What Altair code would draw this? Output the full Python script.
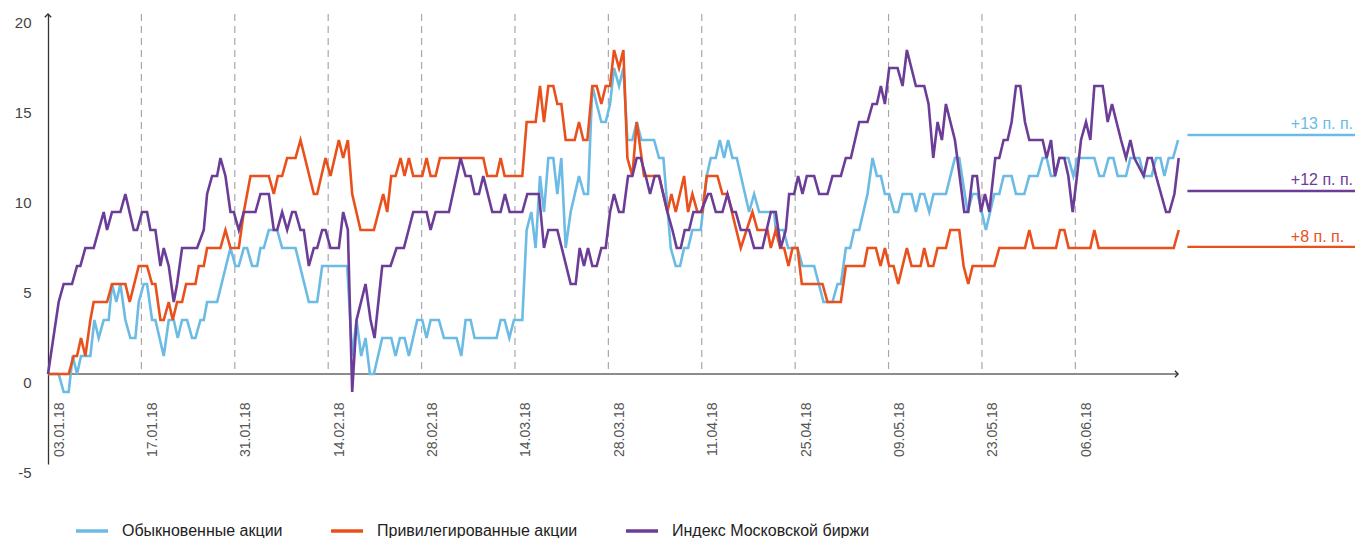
import altair as alt
import pandas as pd

# ---- data (x = days since 03.01.18, y = change, п. п.) ----
series_names = ["Обыкновенные акции", "Привилегированные акции", "Индекс Московской биржи"]
series_colors = ["#6cbbe4", "#e9501c", "#6b3d97"]

blue_x = [0, 1.6, 2.35, 3.1, 3.7, 4.35, 4.95, 6.35, 6.95, 7.6, 8.35, 9.1, 9.6, 10.25, 10.85, 11.6, 12.35, 13.1,
          13.6, 14.35, 14.85, 15.6, 16.1, 17.35, 18.1, 18.85, 19.45, 20.1, 20.85, 21.6, 22.1, 22.85, 23.35, 23.85,
          25.35, 27.35, 28.1, 28.6, 29.35, 29.85, 30.6, 31.35, 31.85, 32.35, 33.1, 34.35, 35.1, 37.1, 39.1, 40.35,
          41.1, 44.85, 45.6, 46.25, 46.95, 47.6, 48.25, 48.85, 50.1, 51.45, 52.1, 52.75, 53.45, 54.1, 55.35, 56.1,
          56.75, 57.35, 58.6, 59.35, 61.25, 61.95, 62.6, 63.35, 63.95, 67.25, 67.85, 68.45, 69.15, 69.85, 71.1,
          71.75, 72.45, 73.1, 73.75, 74.35, 75, 75.75, 76.35, 76.95, 77.6, 78.35, 79.6, 80.35, 80.95, 81.6, 82.25,
          82.95, 83.6, 84.25, 84.85, 85.6, 86.25, 86.85, 87.6, 88.25, 88.95, 90.85, 91.6, 92.25, 93.35, 94.1, 94.75,
          95.35, 95.95, 96.6, 97.85, 98.75, 99.35, 100.1, 100.7, 101.35, 101.95, 102.6, 103.25, 105.1, 105.85,
          106.6, 108.85, 109.1, 110.25, 110.95, 112.35, 113.1, 114.85, 116.25, 117.6, 118.35, 118.85, 119.6,
          120.25, 120.85, 121.6, 122.85, 123.6, 124.25, 124.85, 125.45, 126.1, 126.85, 127.45, 128.1, 129.45,
          130.1, 130.75, 131.35, 132.1, 132.75, 134.6, 135.95, 136.6, 137.85, 138.6, 139.35, 140.6, 141.85, 142.6,
          143.25, 144.45, 145.1, 146.35, 147.1, 148.35, 149.1, 149.7, 150.35, 150.95, 151.6, 152.95, 153.7,
          154.35, 156.85, 157.6, 158.25, 159, 159.7, 160.35, 161.6, 162.25, 163.6, 164.25, 165.45, 166.1, 166.75,
          167.35, 168, 168.65, 169.4]
blue_y = [0, 0, -1, -1, 1, 0, 1, 1, 3, 2, 3, 3, 5, 4, 5, 3, 2, 2,
          4, 5, 5, 3, 3, 1, 3, 3, 2, 3, 3, 2, 2, 3, 3, 4,
          4, 7, 6, 6, 7, 7, 6, 6, 7, 7, 8, 8, 7, 7, 4, 4,
          6, 6, 1, 3, 1, 2, 0, 0, 2, 2, 1, 2, 2, 1, 3, 3,
          2, 3, 3, 2, 2, 1, 3, 3, 2, 2, 3, 3, 2, 3, 3,
          8, 9, 7, 11, 9, 12, 12, 10, 12, 7, 9, 11, 10, 10, 16, 15,
          14, 14, 15, 17, 16, 17, 13, 13, 14, 13, 13, 12, 12, 7, 6, 6,
          7, 7, 8, 8, 11, 12, 12, 13, 12, 13, 12, 12, 9, 10,
          9, 9, 8, 8, 7, 7, 6, 6, 4, 4, 5, 5, 7,
          7, 8, 8, 10, 12, 11, 11, 10, 10, 9, 9, 10, 10,
          9, 10, 10, 9, 10, 10, 12, 12, 9, 10, 10, 8, 10, 10,
          11, 11, 10, 10, 11, 11, 12, 12, 11, 11, 12, 12, 11,
          12, 12, 11, 11, 12, 12, 11, 11, 12, 12, 11, 11, 12, 12,
          11, 12, 12, 13]

orange_x = [0, 3.1, 3.85, 4.35, 4.95, 5.6, 6.35, 6.85, 8.85, 9.6, 11.6, 12.25, 13.6, 14.85, 15.6, 16.1, 16.85,
            17.35, 18.1, 18.7, 19.35, 20.1, 20.7, 22.1, 22.6, 23.35, 23.85, 25.85, 26.6, 27.35, 28.6, 29.35,
            30.35, 33.1, 33.85, 34.45, 35.1, 35.85, 37.1, 37.85, 39.85, 40.35, 41.6, 42.35, 43.6, 44.25, 44.95,
            45.6, 46.85, 48.85, 50.25, 50.85, 51.45, 52.1, 52.85, 53.45, 54.1, 54.75, 56.1, 56.75, 57.35, 58.1,
            58.75, 65.25, 65.85, 67.25, 67.85, 68.45, 71.1, 71.75, 73.1, 73.75, 74.35, 75, 75.75, 76.35, 76.95,
            77.6, 78.95, 79.6, 80.25, 80.85, 81.6, 82.25, 82.95, 83.6, 84.25, 84.85, 85.6, 86.25, 86.85, 87.6,
            88.25, 89.35, 91.6, 92.85, 93.45, 94.1, 95.35, 95.95, 96.6, 97.35, 98.1, 98.75, 100.35, 101.1, 101.85,
            103.85, 105.6, 106.35, 107.85, 108.35, 109.1, 109.75, 110.35, 111, 111.6, 112.35, 113, 116.1, 116.85,
            118.85, 119.6, 122.35, 122.85, 124.1, 124.8, 125.45, 126.1, 126.75, 127.45, 128.75, 129.45, 130.8,
            131.35, 132, 132.7, 133.35, 134.6, 135.25, 136.6, 137.25, 137.95, 138.6, 141.85, 142.6, 146.45, 147.1,
            147.75, 151.1, 151.7, 152.35, 153, 156.25, 156.85, 157.5, 168.75, 169.5]
orange_y = [0, 0, 1, 1, 2, 1, 3, 4, 4, 5, 5, 4, 6, 6, 5, 5, 3,
            3, 4, 3, 4, 4, 5, 5, 6, 6, 7, 7, 8, 7, 7, 9,
            11, 11, 10, 11, 11, 12, 12, 13, 10, 10, 12, 11, 13, 12, 13,
            10, 8, 8, 10, 9, 11, 11, 12, 11, 12, 11, 11, 12, 11, 11,
            12, 12, 11, 11, 12, 11, 11, 14, 14, 16, 14, 16, 16, 15, 15,
            13, 13, 14, 13, 13, 16, 16, 15, 16, 16, 18, 17, 18, 12, 11,
            14, 11, 11, 9, 10, 9, 11, 9, 10, 9, 9, 11, 11, 10, 10,
            7, 9, 8, 8, 7, 8, 7, 7, 6, 7, 7, 5, 5, 4,
            4, 6, 6, 7, 7, 6, 7, 6, 6, 5, 7, 6, 6,
            7, 6, 6, 7, 7, 8, 8, 6, 5, 6, 6, 7, 7, 8,
            7, 7, 8, 8, 7, 7, 8, 7, 7, 8]

purple_x = [0, 1.6, 2.35, 3.6, 4.35, 4.85, 5.6, 6.85, 8.35, 8.85, 9.6, 10.85, 11.6, 12.85, 13.35, 14.1, 14.85,
            15.35, 16.1, 16.85, 17.35, 18.1, 18.85, 19.35, 20.1, 22.35, 23.35, 23.85, 24.6, 25.35, 25.85, 26.6,
            27.35, 27.85, 28.6, 29.35, 31.1, 31.85, 33.1, 33.85, 34.35, 35.1, 35.85, 36.6, 37.1, 37.85, 38.35,
            39.1, 39.85, 40.35, 41.1, 41.6, 42.35, 43.6, 44.25, 44.95, 45.6, 46.25, 47.6, 48.35, 48.95, 50.1,
            51.35, 52.25, 53.35, 54.75, 56.75, 57.35, 58.1, 60.1, 61.85, 62.6, 63.35, 63.95, 64.6, 65.25, 66.6,
            67.85, 68.5, 69.2, 71.1, 71.85, 73.6, 74.35, 75, 76.35, 78.35, 79.1, 79.7, 80.35, 80.95, 81.6, 82.25,
            82.95, 83.6, 84.25, 84.85, 85.6, 86.25, 86.95, 87.6, 88.25, 88.85, 89.6, 90.25, 90.95, 91.6, 92.85,
            93.6, 94.25, 94.85, 95.45, 96.1, 96.75, 97.85, 98.95, 99.35, 100.1, 101.1, 101.85, 102.6, 103.1,
            103.85, 105.1, 105.85, 107.1, 108.35, 109.1, 109.85, 110.6, 111.1, 111.85, 112.45, 113.1, 113.75,
            114.85, 115.6, 116.85, 117.6, 118.85, 119.6, 120.35, 121.6, 122.85, 123.6, 124.25, 124.85, 125.45,
            126.1, 127.35, 128.1, 128.75, 130.1, 131.35, 132, 132.7, 133.35, 134, 134.6, 135.95, 137.35, 137.95,
            138.6, 139.25, 139.85, 140.45, 141.1, 142, 142.6, 143.25, 143.85, 144.45, 145.1, 145.75, 146.45,
            147.1, 149.1, 149.7, 150.35, 150.95, 151.6, 152.35, 152.95, 153.6, 154.25, 154.85, 155.6, 156.25,
            156.85, 158.1, 158.85, 159.5, 160.85, 161.6, 162.25, 162.85, 164.25, 164.85, 165.45, 166.1, 167.6,
            168.1, 168.85, 169.5]
purple_y = [0, 4, 5, 5, 6, 6, 7, 7, 9, 8, 9, 9, 10, 8, 8, 9, 9,
            8, 8, 6, 7, 6, 4, 5, 7, 7, 8, 10, 11, 11, 12, 11,
            9, 9, 8, 9, 9, 10, 10, 8, 8, 9, 8, 9, 9, 8, 8,
            6, 7, 7, 8, 8, 7, 7, 9, 8, -1, 3, 5, 3, 2, 6,
            6, 7, 7, 9, 9, 8, 9, 9, 12, 11, 11, 10, 10, 11, 9,
            9, 10, 9, 9, 10, 10, 7, 8, 8, 5, 5, 7, 6, 7, 6, 6,
            7, 7, 9, 10, 9, 9, 11, 11, 12, 12, 11, 10, 11, 11, 9,
            8, 7, 7, 8, 8, 9, 9, 10, 10, 9, 9, 10, 9, 9,
            8, 8, 7, 7, 9, 9, 7, 8, 10, 10, 11, 10, 11,
            11, 10, 10, 11, 11, 12, 12, 14, 14, 15, 15, 16, 15,
            17, 17, 16, 18, 16, 16, 15, 12, 14, 13, 15, 13, 9, 9,
            11, 11, 9, 10, 9, 12, 12, 13, 13, 14, 16, 16, 14,
            13, 13, 12, 13, 11, 12, 12, 11, 9, 11, 13, 14, 13,
            16, 16, 14, 15, 13, 12, 13, 12, 11, 12, 12, 11, 9,
            9, 10, 12]

tick_days = [0, 14, 28, 42, 56, 70, 84, 98, 112, 126, 140, 154]
tick_labels = ["03.01.18", "17.01.18", "31.01.18", "14.02.18", "28.02.18", "14.03.18",
               "28.03.18", "11.04.18", "25.04.18", "09.05.18", "23.05.18", "06.06.18"]
y_ticks = [-5, 0, 5, 10, 15, 20]

ann_labels = ["+13 п. п.", "+12 п. п.", "+8 п. п."]
ann_colors = ["#6cbbe4", "#6b3d97", "#e9501c"]
ann_line_y = [13.28, 10.17, 7.06]
ann_text_y = [13.9, 10.8, 7.6]

# ---- tables ----
rows = []
for name, xs, ys in zip(series_names, [blue_x, orange_x, purple_x], [blue_y, orange_y, purple_y]):
    for x, y in zip(xs, ys):
        rows.append({"series": name, "day": x, "value": y})
df = pd.DataFrame(rows)

PLOT_W = 1307
X_MAX = PLOT_W / 6.671

ann = pd.DataFrame({"label": ann_labels, "line_y": ann_line_y, "text_y": ann_text_y,
                    "color": ann_colors, "x1": 170.8, "x2": X_MAX, "xt": 186.3})
grid = pd.DataFrame({"day": tick_days[1:], "top": 20, "bottom": 0})

FONT = "Liberation Sans"
xscale = alt.Scale(domain=[0, X_MAX], nice=False, zero=False)
yscale = alt.Scale(domain=[-5, 20], nice=False, zero=False)

label_expr = "[" + ",".join("'%s'" % t for t in tick_labels) + "][round(datum.value / 14)]"

x_axis = alt.Axis(values=tick_days, labelExpr=label_expr, title=None, domain=False, ticks=False,
                  grid=False, labelAngle=270, labelPadding=28, labelOffset=11, labelFlush=False,
                  labelOverlap=False, labelBound=False, offset=-90, labelFont=FONT,
                  labelFontSize=14, labelColor="#555555")
y_axis = alt.Axis(values=y_ticks, title=None, domain=True, domainColor="#333333", domainWidth=1.3,
                  ticks=False, grid=False, labelPadding=17, labelOffset=8, labelFont=FONT,
                  labelExpr="'' + datum.value",
                  labelFontSize=15, labelColor="#444444", labelFlush=False, labelOverlap=False)


def X(field):
    return alt.X(field, scale=xscale, axis=x_axis)


def Y(field):
    return alt.Y(field, scale=yscale, axis=y_axis)


gridlines = alt.Chart(grid).mark_rule(color="#a8a8a8", strokeWidth=1.2, strokeDash=[7, 5]).encode(
    x=X("day:Q"), y=Y("top:Q"), y2="bottom:Q",
)

xline = alt.Chart(pd.DataFrame({"day": [0], "b": [169.4], "value": [0]})).mark_rule(
    color="#666666", strokeWidth=1.6).encode(
    x=X("day:Q"), x2="b:Q", y=Y("value:Q"),
)

arrow_right = alt.Chart(pd.DataFrame({"day": [169.4], "value": [0]})).mark_point(
    shape="M-1,-1L0,0L-1,1", size=40, filled=False, color="#333333", strokeWidth=1.4, opacity=1).encode(
    x=X("day:Q"), y=Y("value:Q"))

arrow_up = alt.Chart(pd.DataFrame({"day": [0], "value": [20]})).mark_point(
    shape="M-1,1L0,0L1,1", size=40, filled=False, color="#333333", strokeWidth=1.4, opacity=1).encode(
    x=X("day:Q"), y=Y("value:Q"))

lines = alt.Chart(df).mark_line(strokeWidth=2.6, strokeJoin="miter").encode(
    x=X("day:Q"),
    y=Y("value:Q"),
    color=alt.Color("series:N", scale=alt.Scale(domain=series_names, range=series_colors),
                    legend=alt.Legend(title=None, orient="none", legendX=26, legendY=499,
                                      direction="horizontal", symbolType="stroke", symbolSize=1024,
                                      symbolStrokeWidth=3.5, labelFont=FONT, labelFontSize=16,
                                      labelColor="#222222", labelOffset=12, columnPadding=41,
                                      padding=0, labelLimit=400)),
    detail="series:N",
)

ann_lines = alt.Chart(ann).mark_rule(strokeWidth=2.4).encode(
    x=X("x1:Q"), x2="x2:Q",
    y=Y("line_y:Q"),
    color=alt.Color("color:N", scale=None),
)

ann_text = alt.Chart(ann).mark_text(align="left", baseline="middle", font=FONT, fontSize=16).encode(
    x=X("xt:Q"),
    y=Y("text_y:Q"),
    text="label:N",
    color=alt.Color("color:N", scale=None),
)

chart = alt.layer(gridlines, xline, lines, arrow_right, arrow_up, ann_lines, ann_text).properties(
    width=PLOT_W, height=450,
    autosize=alt.AutoSizeParams(type="none"),
    padding={"left": 40, "top": 6, "right": 0, "bottom": 76},
    background="white",
).configure_view(stroke=None)

chart.save("out.html", embed_options={"renderer": "svg", "actions": False})
